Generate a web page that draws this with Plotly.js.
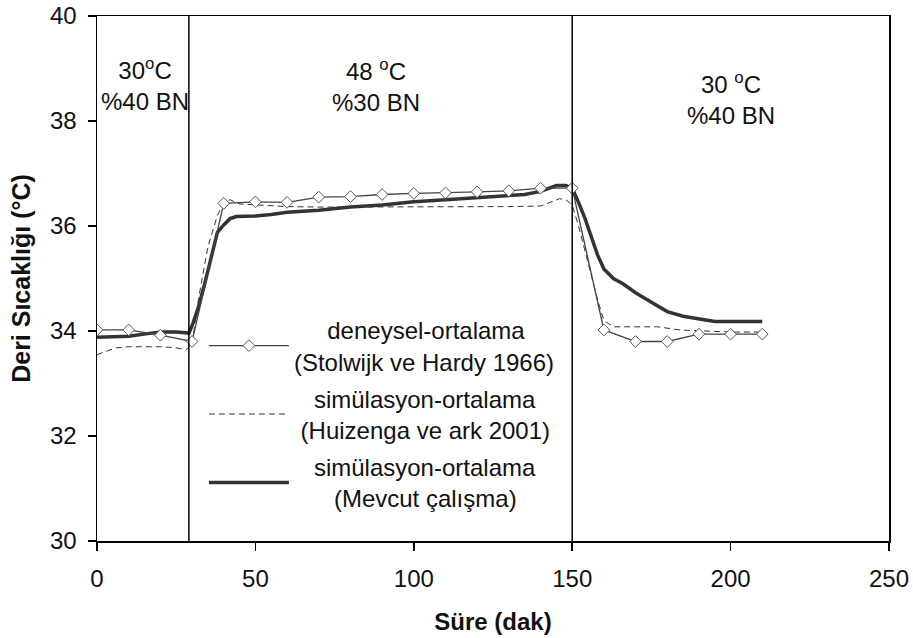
<!DOCTYPE html>
<html>
<head>
<meta charset="utf-8">
<script src="https://cdn.plot.ly/plotly-3.0.1.min.js"></script>
<style>
  html, body { margin: 0; padding: 0; background: #fff; }
  #chart { width: 913px; height: 638px; }
</style>
</head>
<body>
<div id="chart"></div>
<script>
// Deneysel ortalama (Stolwijk ve Hardy 1966)
const expTime = [0, 10, 20, 30, 40, 50, 60, 70, 80, 90, 100, 110, 120, 130, 140, 150, 160, 170, 180, 190, 200, 210];
const expTemp = [34.02, 34.02, 33.92, 33.8, 36.43, 36.46, 36.45, 36.55, 36.56, 36.6, 36.62, 36.63, 36.65, 36.67, 36.72, 36.72, 34.02, 33.8, 33.8, 33.94, 33.94, 33.94];

// Simülasyon ortalama (Huizenga ve ark 2001)
const hzTime = [0, 3, 6, 10, 15, 20, 25, 28, 30, 32, 35, 38, 40, 42, 45, 50, 60, 70, 80, 90, 100, 110, 120, 130, 140, 143, 146, 148, 150, 152, 155, 158, 160, 163, 170, 177, 184, 190, 200, 210];
const hzTemp = [33.55, 33.62, 33.68, 33.7, 33.7, 33.7, 33.68, 33.64, 33.75, 34.6, 35.6, 36.2, 36.45, 36.5, 36.42, 36.4, 36.37, 36.36, 36.36, 36.36, 36.36, 36.36, 36.37, 36.37, 36.38, 36.45, 36.52, 36.5, 36.4, 36.0, 35.3, 34.6, 34.2, 34.08, 34.08, 34.08, 34.02, 34.0, 33.98, 33.98];

// Simülasyon ortalama (Mevcut çalışma)
const mevTime = [0, 10, 16, 20, 25, 29, 30, 32, 34, 36, 38, 40, 42, 44, 50, 55, 60, 70, 80, 90, 100, 110, 120, 130, 135, 140, 143, 145, 148, 150, 152, 154, 156, 158, 160, 163, 166, 170, 175, 180, 185, 190, 195, 200, 210];
const mevTemp = [33.88, 33.9, 33.95, 33.98, 33.98, 33.96, 34.1, 34.45, 34.9, 35.4, 35.88, 36.02, 36.14, 36.18, 36.19, 36.22, 36.26, 36.3, 36.36, 36.4, 36.46, 36.5, 36.54, 36.57, 36.6, 36.66, 36.72, 36.77, 36.77, 36.72, 36.45, 36.15, 35.8, 35.45, 35.18, 35.0, 34.9, 34.73, 34.55, 34.37, 34.28, 34.23, 34.18, 34.18, 34.18];

// Ortam koşulu değişim anları (dak) ve koşul etiketleri
const phaseBounds = [29, 150];
const phaseLabelX = [15, 88, 200];
const phaseLabelY = [38.7, 38.68, 38.42];
const phaseLabels = ['30<sup>o</sup>C<br>%40 BN', '48 <sup>o</sup>C<br>%30 BN', '30 <sup>o</sup>C<br>%40 BN'];

const NB = '\u00a0';
const pad = n => NB.repeat(n);
const legendNames = [
  pad(5) + 'deneysel-ortalama<br>(Stolwijk ve Hardy 1966)',
  pad(3) + 'simülasyon-ortalama<br>' + pad(1) + '(Huizenga ve ark 2001)',
  pad(3) + 'simülasyon-ortalama<br>' + pad(6) + '(Mevcut çalışma)'
];

const FONT = 'Liberation Sans, Arial, sans-serif';
const INK = '#111';

// Kalın çizgi önce çizilir, deneysel işaretler en üstte kalır;
// gösterge sırası legendrank ile belirlenir.
const traces = [
  {
    x: mevTime, y: mevTemp, name: legendNames[2], mode: 'lines',
    legendgroup: 'mev', legendrank: 3,
    line: { color: '#333', width: 3.5 }
  },
  {
    x: hzTime, y: hzTemp, name: legendNames[1], mode: 'lines',
    legendgroup: 'hz', legendrank: 2,
    line: { color: '#333', width: 1, dash: '6px,4px' }
  },
  {
    x: expTime, y: expTemp, name: legendNames[0], mode: 'lines+markers',
    legendgroup: 'exp', legendrank: 1,
    line: { color: '#444', width: 1.3 },
    marker: { symbol: 'diamond', size: 9, color: '#fff', line: { color: '#555', width: 1 } }
  }
];

const shapes = phaseBounds.map(b => ({
  type: 'line', xref: 'x', yref: 'paper', x0: b, x1: b, y0: 0, y1: 1,
  line: { color: '#000', width: 1.5 }
}));

const annotations = phaseLabels.map((t, i) => ({
  x: phaseLabelX[i], y: phaseLabelY[i], xref: 'x', yref: 'y',
  text: t, showarrow: false, align: 'center',
  font: { family: FONT, size: 24, color: INK }
}));

const layout = {
  width: 913, height: 638,
  margin: { l: 97, r: 24, t: 16, b: 97 },
  paper_bgcolor: '#fff', plot_bgcolor: '#fff',
  font: { family: FONT, color: INK },
  showlegend: true,
  legend: {
    x: 0.135, y: 0.444, xanchor: 'left', yanchor: 'top',
    bgcolor: 'rgba(0,0,0,0)', itemwidth: 80, traceorder: 'grouped',
    tracegroupgap: 3,
    font: { family: FONT, size: 24, color: INK }
  },
  xaxis: {
    range: [0, 250], dtick: 50, tick0: 0,
    ticks: 'outside', ticklen: 8, tickwidth: 1.5, tickcolor: '#000',
    ticklabelstandoff: 8,
    showline: true, linecolor: '#000', linewidth: 1.5, mirror: true,
    showgrid: false, zeroline: false,
    tickfont: { family: FONT, size: 24, color: INK },
    title: { text: '<b>Süre (dak)</b>', font: { family: FONT, size: 24, color: INK }, standoff: 22 }
  },
  yaxis: {
    range: [30, 40], dtick: 2, tick0: 30,
    ticks: 'outside', ticklen: 8, tickwidth: 1.5, tickcolor: '#000',
    ticklabelstandoff: 6,
    showline: true, linecolor: '#000', linewidth: 1.5, mirror: true,
    showgrid: false, zeroline: false,
    tickfont: { family: FONT, size: 24, color: INK },
    title: { text: '<b>Deri Sıcaklığı (°C)</b>', font: { family: FONT, size: 25, color: INK }, standoff: 12 }
  },
  shapes: shapes,
  annotations: annotations
};

Plotly.newPlot('chart', traces, layout, { staticPlot: true, displayModeBar: false });
</script>
</body>
</html>
